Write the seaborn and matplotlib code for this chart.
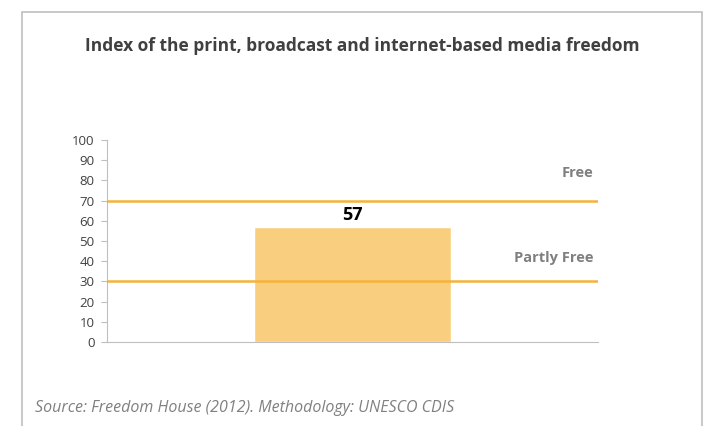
import matplotlib
matplotlib.use("Agg")
import matplotlib.pyplot as plt
import matplotlib.patches as mpatches
import seaborn as sns
import pandas as pd

# data
categories = ["Media freedom"]
values = [57]
thresholds = [70, 30]
threshold_labels = ["Free", "Partly Free"]
label_y = [83.5, 41.5]

df = pd.DataFrame({"category": categories, "value": values})

sns.set_style("white")
plt.rcParams["font.family"] = ["Open Sans", "DejaVu Sans"]

fig = plt.figure(figsize=(7.07, 4.26), dpi=100)
ax = fig.add_axes([0.1513, 0.1972, 0.6945, 0.4742])

sns.barplot(data=df, x="category", y="value", color="#F9CF7F", saturation=1,
            width=0.4, ax=ax)
ax.set_xlim(-0.5, 0.5)
ax.set_ylim(0, 100)
ax.set_yticks(range(0, 101, 10))
ax.set_xticks([])
ax.set_xlabel("")
ax.set_ylabel("")

for t, lab, ly in zip(thresholds, threshold_labels, label_y):
    ax.axhline(t, color="#F5B338", lw=1.8, zorder=3)
    ax.text(0.49, ly, lab, ha="right", va="center", fontsize=10.5,
            color="#7F7F7F", fontweight="bold")

for i, v in enumerate(values):
    ax.text(i, v + 1.5, str(v), ha="center", va="bottom", fontsize=13,
            fontweight="bold", color="black")

sns.despine(ax=ax, top=True, right=True)
ax.spines["left"].set_color("#BFBFBF")
ax.spines["bottom"].set_color("#BFBFBF")
ax.tick_params(axis="y", left=True, length=4, color="#BFBFBF", labelsize=9.5,
               labelcolor="#404040", pad=5)

fig.text(0.513, 0.893, "Index of the print, broadcast and internet-based media freedom",
         ha="center", va="center", fontsize=12.5, fontweight="bold", color="#404040")
fig.text(0.049, 0.042, "Source: Freedom House (2012). Methodology: UNESCO CDIS",
         ha="left", va="center", fontsize=11.5, style="italic", color="#808080")

# outer frame of the chart area
fig.patches.append(mpatches.Rectangle((22 / 707, -0.05), 680 / 707, 1.05 - 12 / 426,
                                      transform=fig.transFigure, fill=False,
                                      edgecolor="#BFBFBF", lw=1.2))

fig.savefig("out.png", dpi=100)
